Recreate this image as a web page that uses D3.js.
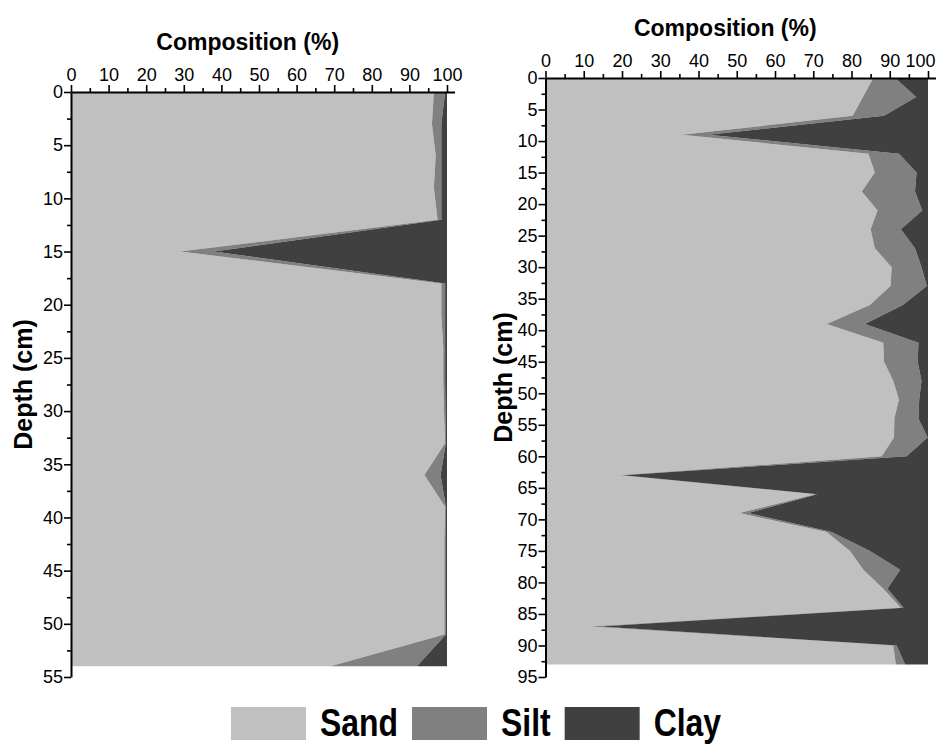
<!DOCTYPE html>
<html>
<head>
<meta charset="utf-8">
<script src="https://cdn.jsdelivr.net/npm/d3@7"></script>
<style>
  body { margin: 0; background: #fff; }
  svg text { font-family: "Liberation Sans", Arial, sans-serif; fill: #000; }
</style>
</head>
<body>
<svg id="chart" width="936" height="745"></svg>
<script>
// Grain-size fractions, stacked left to right
const fractions = ["Sand", "Silt", "Clay"];
const fractionColors = ["#c0c0c0", "#808080", "#404040"];
const compositionTicks = [0, 10, 20, 30, 40, 50, 60, 70, 80, 90, 100];
const compositionMinorTicks = [5, 15, 25, 35, 45, 55, 65, 75, 85, 95];

// Core A (0–54 cm, sampled every 3 cm)
const depthA = [0, 3, 6, 9, 12, 15, 18, 21, 24, 27, 30, 33, 36, 39, 42, 45, 48, 51, 54];
const sandA  = [96.5, 96, 97, 96.5, 97.5, 29, 98.5, 98.5, 99, 99, 99.2, 99.5, 94, 99.5, 99.3, 99.3, 99.3, 99.3, 69];
const siltA  = [3, 2.5, 1.5, 2, 1, 9, 1, 1, 0.5, 0.5, 0.4, 0.2, 4.3, 0.2, 0.3, 0.3, 0.3, 0.4, 23];
const clayA  = [0.5, 1.5, 1.5, 1.5, 1.5, 62, 0.5, 0.5, 0.5, 0.5, 0.4, 0.3, 1.7, 0.3, 0.4, 0.4, 0.4, 0.3, 8];
const depthTicksA = [0, 5, 10, 15, 20, 25, 30, 35, 40, 45, 50, 55];
const depthMinorA = [2.5, 7.5, 12.5, 17.5, 22.5, 27.5, 32.5, 37.5, 42.5, 47.5, 52.5];

// Core B (0–93 cm, sampled every 3 cm)
const depthB = [0, 3, 6, 9, 12, 15, 18, 21, 24, 27, 30, 33, 36, 39, 42, 45,
                48, 51, 54, 57, 60, 63, 66, 69, 72, 75, 78, 81, 84, 87, 90, 93];
const sandB  = [85.7, 83, 80.3, 35.6, 84.4, 86.1, 82.7, 86.8, 85.0, 86.1, 90.5, 90.2, 84.8, 73.5, 88.3, 88.5,
                90.9, 92.4, 91.2, 91.1, 87.9, 19.3, 70.5, 50.7, 73.5, 79.6, 83.1, 88.3, 92.9, 11.6, 90.9, 91.6];
const siltB  = [5.7, 13.9, 8.2, 7.0, 8.0, 10.9, 13.9, 11.7, 7.9, 10.5, 7.8, 9.5, 8.6, 10.0, 9.2, 8.8,
                7.4, 5.3, 6.3, 8.8, 6.5, 0.9, 0.5, 2.3, 1.3, 5.2, 9.6, 1.1, 0.7, 2.6, 0.9, 2.4];
const clayB  = [8.6, 3.1, 11.5, 57.4, 7.6, 3.0, 3.4, 1.5, 7.1, 3.4, 1.7, 0.3, 6.6, 16.5, 2.5, 2.7,
                1.7, 2.3, 2.5, 0.1, 5.6, 79.8, 29.0, 47.0, 25.2, 15.2, 7.3, 10.6, 6.4, 85.8, 8.2, 6.0];
const depthTicksB = [0, 5, 10, 15, 20, 25, 30, 35, 40, 45, 50, 55, 60, 65, 70, 75, 80, 85, 90, 95];
const depthMinorB = [2.5, 7.5, 12.5, 17.5, 22.5, 27.5, 32.5, 37.5, 42.5, 47.5, 52.5, 57.5, 62.5,
                     67.5, 72.5, 77.5, 82.5, 87.5, 92.5];

const svg = d3.select("#chart");
const pageWidth = +svg.attr("width");

function drawCore(cfg) {
  const rows = cfg.depth.map((d, i) => ({
    depth: d, Sand: cfg.sand[i], Silt: cfg.silt[i], Clay: cfg.clay[i]
  }));

  // composition axis runs slightly past 100 %
  const pxPerPct = (cfg.right - cfg.left) / 100;
  const x = d3.scaleLinear().domain([0, 102]).range([cfg.left, cfg.left + 102 * pxPerPct]);
  const y = d3.scaleLinear().domain([0, cfg.maxDepth]).range([cfg.top, cfg.bottom]);

  const g = svg.append("g");

  const series = d3.stack().keys(fractions)(rows);
  const area = d3.area()
    .x0(d => x(d[0]))
    .x1(d => x(d[1]))
    .y(d => y(d.data.depth));

  g.selectAll("path.layer")
    .data(series)
    .join("path")
    .attr("class", "layer")
    .attr("fill", (s, i) => fractionColors[i])
    .attr("d", area);

  // top composition axis
  g.append("g")
    .attr("class", "x-axis")
    .attr("transform", `translate(0,${cfg.top})`)
    .call(d3.axisTop(x).tickValues(compositionTicks).tickSize(7).tickSizeOuter(0).tickPadding(4));
  g.append("g")
    .attr("transform", `translate(0,${cfg.top})`)
    .call(d3.axisTop(x).tickValues(compositionMinorTicks).tickSize(4).tickSizeOuter(0).tickFormat(""))
    .call(a => a.select(".domain").remove());

  // left depth axis
  g.append("g")
    .attr("transform", `translate(${cfg.left},0)`)
    .call(d3.axisLeft(y).tickValues(cfg.ticks).tickSize(7).tickSizeOuter(0).tickPadding(1));
  g.append("g")
    .attr("transform", `translate(${cfg.left},0)`)
    .call(d3.axisLeft(y).tickValues(cfg.minor).tickSize(4).tickSizeOuter(0).tickFormat(""))
    .call(a => a.select(".domain").remove());

  g.selectAll(".domain").attr("stroke", "#000").attr("stroke-width", 2);
  g.selectAll(".tick line").attr("stroke", "#000").attr("stroke-width", 1.6);
  g.selectAll(".tick text")
    .style("font-size", "18px")
    .attr("fill", "#000");

  // keep the last composition label inside the page
  g.selectAll(".x-axis .tick text").each(function () {
    const box = this.getBBox();
    const tickX = x(+d3.select(this.parentNode).datum());
    const overflow = tickX + box.x + box.width - (pageWidth - 1);
    if (overflow > 0) d3.select(this).attr("x", -overflow);
  });

  // titles
  g.append("text")
    .attr("x", x(47))
    .attr("y", cfg.top - 42)
    .attr("text-anchor", "middle")
    .style("font-size", "23px")
    .style("font-weight", "bold")
    .text("Composition (%)");

  g.append("text")
    .attr("transform", `translate(${cfg.left - cfg.depthTitleOffset},${(cfg.top + cfg.bottom) / 2}) rotate(-90)`)
    .attr("text-anchor", "middle")
    .style("font-size", "25px")
    .style("font-weight", "bold")
    .text("Depth (cm)");
}

drawCore({
  depth: depthA, sand: sandA, silt: siltA, clay: clayA,
  ticks: depthTicksA, minor: depthMinorA, maxDepth: 55,
  left: 71, right: 447, top: 92, bottom: 677, depthTitleOffset: 39
});

drawCore({
  depth: depthB, sand: sandB, silt: siltB, clay: clayB,
  ticks: depthTicksB, minor: depthMinorB, maxDepth: 95,
  left: 545.5, right: 928, top: 78, bottom: 677, depthTitleOffset: 34
});

// legend along the bottom edge
const legend = svg.append("g").attr("transform", "translate(231,707)");
const boxW = 75, boxH = 33, squeeze = 0.84;
let cursor = 0;
fractions.forEach((name, i) => {
  legend.append("rect")
    .attr("x", cursor).attr("y", 0)
    .attr("width", boxW).attr("height", boxH)
    .attr("fill", fractionColors[i]);
  const label = legend.append("text")
    .attr("transform", `translate(${cursor + boxW + 14},${boxH - 4}) scale(${squeeze},1)`)
    .style("font-size", "38px")
    .style("font-weight", "bold")
    .text(name);
  const w = label.node().getComputedTextLength() * squeeze;
  cursor += boxW + 14 + w + 14;
});
</script>
</body>
</html>
